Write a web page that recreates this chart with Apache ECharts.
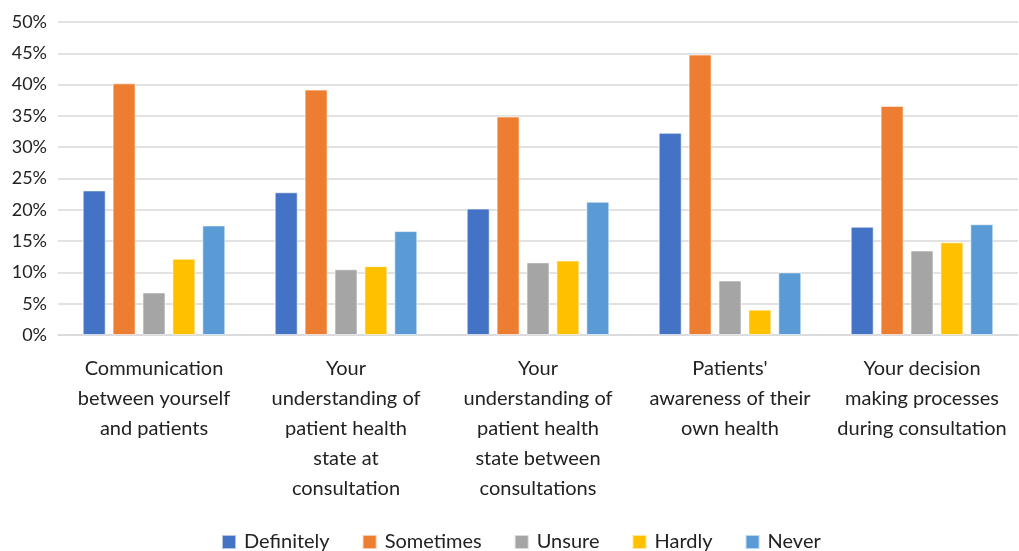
<!DOCTYPE html>
<html>
<head>
<meta charset="utf-8">
<script src="https://cdn.jsdelivr.net/npm/echarts@6/dist/echarts.min.js"></script>
<style>
  html, body { margin: 0; padding: 0; background: #fff; }
  #chart { width: 1019px; height: 551px; }
</style>
</head>
<body>
<div id="chart"></div>
<script>
// Survey responses by aspect of care (share of respondents, %)
const categories = [
  'Communication\nbetween yourself\nand patients',
  'Your\nunderstanding of\npatient health\nstate at\nconsultation',
  'Your\nunderstanding of\npatient health\nstate between\nconsultations',
  "Patients'\nawareness of their\nown health",
  'Your decision\nmaking processes\nduring consultation'
];
const definitely = [23.1, 22.8, 20.2, 32.3, 17.3];
const sometimes  = [40.2, 39.2, 34.9, 44.8, 36.6];
const unsure     = [6.8, 10.5, 11.6, 8.7, 13.5];
const hardly     = [12.2, 11.0, 11.9, 4.05, 14.8];
const never      = [17.5, 16.6, 21.3, 10.0, 17.7];
const seriesNames = ['Definitely', 'Sometimes', 'Unsure', 'Hardly', 'Never'];
const colors = ['#4472C4', '#ED7D31', '#A5A5A5', '#FFC000', '#5B9BD5'];

const font = 'Lato, "Open Sans", sans-serif';
const values = [definitely, sometimes, unsure, hardly, never];

const chart = echarts.init(document.getElementById('chart'), null, { renderer: 'canvas' });
chart.setOption({
  animation: false,
  color: colors,
  grid: { left: 58, right: 1, top: 22, bottom: 216, containLabel: false },
  legend: {
    top: 532,
    left: 221,
    padding: 0,
    itemWidth: 14,
    itemHeight: 14,
    itemGap: 32,
    icon: 'rect',
    textStyle: { fontFamily: font, fontSize: 20, color: '#222', padding: [0, 0, 0, 3] },
    data: seriesNames
  },
  xAxis: {
    type: 'category',
    data: categories,
    axisLine: { show: true, lineStyle: { color: '#d9d9d9', width: 1.5 } },
    axisTick: { show: false },
    axisLabel: {
      interval: 0,
      margin: 19,
      fontFamily: font,
      fontSize: 20,
      lineHeight: 30,
      color: '#222',
      align: 'center'
    }
  },
  yAxis: {
    type: 'value',
    min: 0,
    max: 50,
    interval: 5,
    axisLine: { show: false },
    axisTick: { show: false },
    splitLine: { lineStyle: { color: '#d9d9d9', width: 1.5 } },
    axisLabel: {
      margin: 11,
      fontFamily: font,
      fontSize: 18,
      color: '#222',
      formatter: '{value}%'
    }
  },
  series: seriesNames.map((name, i) => ({
    name,
    type: 'bar',
    data: values[i],
    barWidth: 23,
    barGap: '30%',
    itemStyle: { borderColor: 'rgba(255,255,255,0.6)', borderWidth: 1 }
  }))
});
</script>
</body>
</html>
